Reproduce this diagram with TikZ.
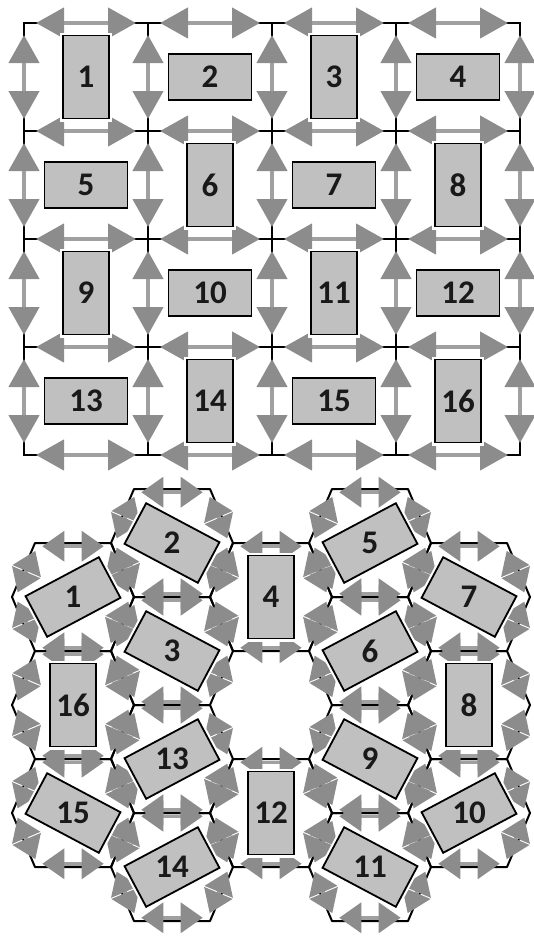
\documentclass[tikz,border=0pt]{standalone}
\usepackage{fontspec}
\setmainfont{Carlito}
\usetikzlibrary{arrows.meta,calc}

\definecolor{arrowgray}{RGB}{140,140,140}
\definecolor{shaftgray}{RGB}{160,160,160}
\definecolor{boxgray}{RGB}{192,192,192}

\begin{document}
\begin{tikzpicture}[
    x=1pt, y=-1pt,
    every node/.style={font=\fontsize{33}{33}\selectfont\bfseries},
    gridline/.style={black, line width=1.5pt, line cap=rect},
    hexline/.style={black, line width=2pt, line join=round},
    gridarrow/.style={
        shaftgray, line width=4.5pt,
        {Triangle[length=28pt,width=30pt,color=arrowgray]}-{Triangle[length=28pt,width=30pt,color=arrowgray]},
        shorten <=12pt, shorten >=12pt,
    },
    hexarrow/.style={
        shaftgray, line width=3.5pt,
        {Triangle[length=22pt,width=30pt,color=arrowgray]}-{Triangle[length=22pt,width=30pt,color=arrowgray]},
        shorten <=5pt, shorten >=5pt,
    },
    cellbox/.style={
        draw=black, line width=1.8pt, fill=boxgray,
        inner sep=0pt, text=black!90,
        preaction={draw=white, line width=6pt},
    },
    hbox/.style={cellbox, minimum width=83pt, minimum height=46pt},
    vbox/.style={cellbox, minimum width=46pt, minimum height=83pt},
    numlabel/.style={inner sep=0pt, text=black!90},
]

\useasboundingbox (0,0) rectangle (534,938);

% Hexagon half width, half top edge, half height
\def\hexw{61}
\def\hexa{38}
\def\hexh{54}

% --- Square grid: corner points ---
\foreach \col in {0,...,4}
    \foreach \row in {0,...,4}
        \coordinate (g-\col-\row) at (24+124*\col, 23+108*\row);

% --- Square grid: black lines ---
\foreach \i in {0,...,4} {
    \draw[gridline] (g-0-\i) -- (g-4-\i);
    \draw[gridline] (g-\i-0) -- (g-\i-4);
}

% --- Square grid: double arrows on every edge ---
\foreach \i/\j in {0/1,1/2,2/3,3/4}
    \foreach \row in {0,...,4} {
        \draw[gridarrow] (g-\i-\row) -- (g-\j-\row);
        \draw[gridarrow] (g-\row-\i) -- (g-\row-\j);
    }

% --- Hexagons: centres, corners and outlines ---
\foreach \hx/\cx/\cy in {1/73/597, 2/172/543, 3/172/651, 4/271/597,
        5/370/543, 6/370/651, 7/469/597, 8/469/705, 9/370/759, 10/469/813,
        11/370/867, 12/271/813, 13/172/759, 14/172/867, 15/73/813, 16/73/705} {
    \coordinate (h\hx) at (\cx,\cy);
    \foreach \p/\dx/\dy in {1/\hexw/0, 2/\hexa/\hexh, 3/-\hexa/\hexh,
            4/-\hexw/0, 5/-\hexa/-\hexh, 6/\hexa/-\hexh} {
        \coordinate (h\hx-\p) at ({\cx+(\dx)},{\cy+(\dy)});
        \coordinate (hi\hx-\p) at ($(h\hx)!0.94!(h\hx-\p)$);
    }
    \draw[hexline] (h\hx-1) -- (h\hx-2) -- (h\hx-3) -- (h\hx-4)
        -- (h\hx-5) -- (h\hx-6) -- cycle;
}

% --- Hexagons: double arrows just inside each edge ---
\foreach \hx in {1,...,16}
    \foreach \p/\q in {1/2,2/3,3/4,4/5,5/6,6/1}
        \draw[hexarrow] (hi\hx-\p) -- (hi\hx-\q);

% --- Square grid: cells ---
\node[vbox] (b1) at (86,77) {1};
\node[hbox] (b2) at (210,77) {2};
\node[vbox] (b3) at (334,77) {3};
\node[hbox] (b4) at (458,77) {4};
\node[hbox] (b5) at (86,185) {5};
\node[vbox] (b6) at (210,185) {6};
\node[hbox] (b7) at (334,185) {7};
\node[vbox] (b8) at (458,185) {8};
\node[vbox] (b9) at (86,293) {9};
\node[hbox] (b10) at (210,293) {10};
\node[vbox] (b11) at (334,293) {11};
\node[hbox] (b12) at (458,293) {12};
\node[hbox] (b13) at (86,401) {13};
\node[vbox] (b14) at (210,401) {14};
\node[hbox] (b15) at (334,401) {15};
\node[vbox] (b16) at (458,401) {16};

% --- Hexagons: cells (labels stay upright) ---
\node[hbox, rotate=28] (k1) at (h1) {};
\node[numlabel] (n1) at (k1) {1};
\node[hbox, rotate=-28] (k2) at (h2) {};
\node[numlabel] (n2) at (k2) {2};
\node[hbox, rotate=-28] (k3) at (h3) {};
\node[numlabel] (n3) at (k3) {3};
\node[vbox] (k4) at (h4) {4};
\node[hbox, rotate=28] (k5) at (h5) {};
\node[numlabel] (n5) at (k5) {5};
\node[hbox, rotate=28] (k6) at (h6) {};
\node[numlabel] (n6) at (k6) {6};
\node[hbox, rotate=-28] (k7) at (h7) {};
\node[numlabel] (n7) at (k7) {7};
\node[vbox] (k8) at (h8) {8};
\node[hbox, rotate=-28] (k9) at (h9) {};
\node[numlabel] (n9) at (k9) {9};
\node[hbox, rotate=28] (k10) at (h10) {};
\node[numlabel] (n10) at (k10) {10};
\node[hbox, rotate=-28] (k11) at (h11) {};
\node[numlabel] (n11) at (k11) {11};
\node[vbox] (k12) at (h12) {12};
\node[hbox, rotate=28] (k13) at (h13) {};
\node[numlabel] (n13) at (k13) {13};
\node[hbox, rotate=28] (k14) at (h14) {};
\node[numlabel] (n14) at (k14) {14};
\node[hbox, rotate=-28] (k15) at (h15) {};
\node[numlabel] (n15) at (k15) {15};
\node[vbox] (k16) at (h16) {16};

\end{tikzpicture}
\end{document}
